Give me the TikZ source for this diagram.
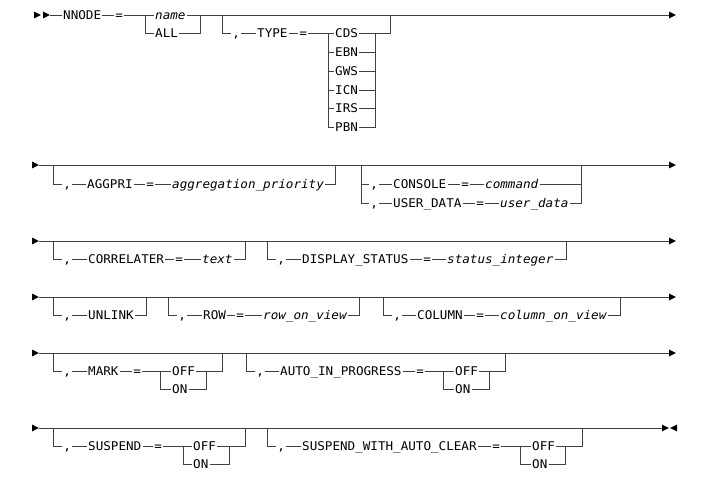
\documentclass[tikz,border=0pt]{standalone}
\usepackage{fontspec}
\setmonofont{DejaVu Sans Mono}[FakeStretch=1.05]
\tikzstyle{rail} = [draw=black!75, line width=0.7pt]
\tikzstyle{kw} = [inner sep=1pt, anchor=west, text height=8.8pt, text depth=0pt, text=black, font=\ttfamily\fontsize{12}{14}\selectfont]
\tikzstyle{var} = [kw, font=\ttfamily\itshape\fontsize{12}{14}\selectfont]
\newcommand{\railtip}[2]{\fill[black] (#1,#2) -- ++(-7,-3.4) -- ++(0,6.8) -- cycle;}
\newcommand{\railtipl}[2]{\fill[black] (#1,#2) -- ++(7,-3.4) -- ++(0,6.8) -- cycle;}
\begin{document}
\begin{tikzpicture}[x=1pt, y=-1pt]
\useasboundingbox (0,0) rectangle (722,489);

% Row 1: NNODE, TYPE
\coordinate (s1) at (50,15);
\coordinate (e1) at (669,15);
\railtip{41}{15} \railtip{50}{15} \railtip{676}{15}
\node[kw] (nnode) at (62,15) {NNODE};
\node[kw] (eq1) at (114.2,15) {=};
\node[var] (name) at (154,15) {name};
\node[kw] (all) at (154,33) {ALL};
\coordinate (nsplit) at (145,15);
\coordinate (njoin) at (200,15);
\draw[rail] (s1) -- (nnode.west);
\draw[rail] (nnode.east) -- (eq1.west);
\draw[rail] (eq1.east) -- (name.west);
\draw[rail] (nsplit) |- (all.west);
\draw[rail] (name.east) -- (njoin);
\draw[rail] (all.east) -| (njoin);
\draw[rail] (njoin) -- (e1);

% TYPE choices
\coordinate (typein) at (222,15);
\coordinate (typeout) at (390,15);
\coordinate (tsplit) at (328,33);
\coordinate (tright) at (375,33);
\node[kw] (comma1) at (231.2,33) {,};
\node[kw] (type) at (256,33) {TYPE};
\node[kw] (eq2) at (298.2,33) {=};
\node[kw] (cds) at (334,33) {CDS};
\node[kw] (ebn) at (334,52) {EBN};
\node[kw] (gws) at (334,71) {GWS};
\node[kw] (icn) at (334,90) {ICN};
\node[kw] (irs) at (334,108) {IRS};
\node[kw] (pbn) at (334,127) {PBN};
\draw[rail] (typein) |- (comma1.west);
\draw[rail] (comma1.east) -- (type.west);
\draw[rail] (type.east) -- (eq2.west);
\draw[rail] (eq2.east) -- (cds.west);
\draw[rail] (tsplit) |- (pbn.west);
\draw[rail] (tsplit |- ebn.west) -- (ebn.west);
\draw[rail] (tsplit |- gws.west) -- (gws.west);
\draw[rail] (tsplit |- icn.west) -- (icn.west);
\draw[rail] (tsplit |- irs.west) -- (irs.west);
\draw[rail] (cds.east) -| (typeout);
\draw[rail] (pbn.east) -| (tright);
\draw[rail] (ebn.east) -- (tright |- ebn.east);
\draw[rail] (gws.east) -- (tright |- gws.east);
\draw[rail] (icn.east) -- (tright |- icn.east);
\draw[rail] (irs.east) -- (tright |- irs.east);

% Row 2: AGGPRI, CONSOLE / USER_DATA
\coordinate (s2) at (39,165);
\coordinate (e2) at (669,165);
\railtip{39}{165} \railtip{676}{165}
\draw[rail] (s2) -- (e2);
\coordinate (aggin) at (53,165);
\coordinate (aggout) at (335,165);
\node[kw] (comma2) at (62.2,184) {,};
\node[kw] (aggpri) at (86,184) {AGGPRI};
\node[kw] (eq3) at (145.2,184) {=};
\node[var] (aggval) at (171,184) {aggregation\_priority};
\draw[rail] (aggin) |- (comma2.west);
\draw[rail] (comma2.east) -- (aggpri.west);
\draw[rail] (aggpri.east) -- (eq3.west);
\draw[rail] (eq3.east) -- (aggval.west);
\draw[rail] (aggval.east) -| (aggout);

\coordinate (conin) at (361,165);
\coordinate (conout) at (581,165);
\node[kw] (comma3) at (369.2,184) {,};
\node[kw] (console) at (392,184) {CONSOLE};
\node[kw] (eq4) at (460.2,184) {=};
\node[var] (command) at (484,184) {command};
\node[kw] (comma4) at (369.2,203) {,};
\node[kw] (userdata) at (392,203) {USER\_DATA};
\node[kw] (eq5) at (475.2,203) {=};
\node[var] (userval) at (499,203) {user\_data};
\draw[rail] (conin) |- (comma4.west);
\draw[rail] (conin |- comma3.west) -- (comma3.west);
\draw[rail] (comma3.east) -- (console.west);
\draw[rail] (console.east) -- (eq4.west);
\draw[rail] (eq4.east) -- (command.west);
\draw[rail] (command.east) -- (conout |- command.east);
\draw[rail] (comma4.east) -- (userdata.west);
\draw[rail] (userdata.east) -- (eq5.west);
\draw[rail] (eq5.east) -- (userval.west);
\draw[rail] (userval.east) -| (conout);

% Row 3: CORRELATER, DISPLAY_STATUS
\coordinate (s3) at (39,241);
\coordinate (e3) at (669,241);
\railtip{39}{241} \railtip{676}{241}
\draw[rail] (s3) -- (e3);
\coordinate (corin) at (53,241);
\coordinate (corout) at (245,241);
\node[kw] (comma5) at (62.2,259) {,};
\node[kw] (correl) at (87,259) {CORRELATER};
\node[kw] (eq6) at (174.2,259) {=};
\node[var] (textval) at (201,259) {text};
\draw[rail] (corin) |- (comma5.west);
\draw[rail] (comma5.east) -- (correl.west);
\draw[rail] (correl.east) -- (eq6.west);
\draw[rail] (eq6.east) -- (textval.west);
\draw[rail] (textval.east) -| (corout);

\coordinate (dspin) at (267,241);
\coordinate (dspout) at (566,241);
\node[kw] (comma6) at (276.2,259) {,};
\node[kw] (dspstat) at (301,259) {DISPLAY\_STATUS};
\node[kw] (eq7) at (422.2,259) {=};
\node[var] (statval) at (446,259) {status\_integer};
\draw[rail] (dspin) |- (comma6.west);
\draw[rail] (comma6.east) -- (dspstat.west);
\draw[rail] (dspstat.east) -- (eq7.west);
\draw[rail] (eq7.east) -- (statval.west);
\draw[rail] (statval.east) -| (dspout);

% Row 4: UNLINK, ROW, COLUMN
\coordinate (s4) at (39,297);
\coordinate (e4) at (669,297);
\railtip{39}{297} \railtip{676}{297}
\draw[rail] (s4) -- (e4);
\coordinate (unlin) at (53,297);
\coordinate (unlout) at (146,297);
\node[kw] (comma7) at (62.2,315) {,};
\node[kw] (unlink) at (87,315) {UNLINK};
\draw[rail] (unlin) |- (comma7.west);
\draw[rail] (comma7.east) -- (unlink.west);
\draw[rail] (unlink.east) -| (unlout);

\coordinate (rowin) at (168,297);
\coordinate (rowout) at (359,297);
\node[kw] (comma8) at (177.2,315) {,};
\node[kw] (rowkw) at (202,315) {ROW};
\node[kw] (eq8) at (235.2,315) {=};
\node[var] (rowval) at (262,315) {row\_on\_view};
\draw[rail] (rowin) |- (comma8.west);
\draw[rail] (comma8.east) -- (rowkw.west);
\draw[rail] (rowkw.east) -- (eq8.west);
\draw[rail] (eq8.east) -- (rowval.west);
\draw[rail] (rowval.east) -| (rowout);

\coordinate (colin) at (383,297);
\coordinate (colout) at (620,297);
\node[kw] (comma9) at (392.2,315) {,};
\node[kw] (colkw) at (416,315) {COLUMN};
\node[kw] (eq9) at (475.2,315) {=};
\node[var] (colval) at (499,315) {column\_on\_view};
\draw[rail] (colin) |- (comma9.west);
\draw[rail] (comma9.east) -- (colkw.west);
\draw[rail] (colkw.east) -- (eq9.west);
\draw[rail] (eq9.east) -- (colval.west);
\draw[rail] (colval.east) -| (colout);

% Row 5: MARK, AUTO_IN_PROGRESS
\coordinate (s5) at (39,353);
\coordinate (e5) at (669,353);
\railtip{39}{353} \railtip{676}{353}
\draw[rail] (s5) -- (e5);
\coordinate (markin) at (53,353);
\coordinate (markout) at (222,353);
\coordinate (msplit) at (160,371);
\coordinate (mright) at (206,371);
\node[kw] (comma10) at (62.2,371) {,};
\node[kw] (markkw) at (87,371) {MARK};
\node[kw] (eq10) at (132.2,371) {=};
\node[kw] (moff) at (171,371) {OFF};
\node[kw] (mon) at (171,389) {ON};
\draw[rail] (markin) |- (comma10.west);
\draw[rail] (comma10.east) -- (markkw.west);
\draw[rail] (markkw.east) -- (eq10.west);
\draw[rail] (eq10.east) -- (moff.west);
\draw[rail] (msplit) |- (mon.west);
\draw[rail] (mon.east) -| (mright);
\draw[rail] (moff.east) -| (markout);

\coordinate (autoin) at (246,353);
\coordinate (autoout) at (505,353);
\coordinate (asplit) at (443,371);
\coordinate (aright) at (489,371);
\node[kw] (comma11) at (255.2,371) {,};
\node[kw] (autokw) at (279,371) {AUTO\_IN\_PROGRESS};
\node[kw] (eq11) at (415.2,371) {=};
\node[kw] (aoff) at (454,371) {OFF};
\node[kw] (aon) at (454,389) {ON};
\draw[rail] (autoin) |- (comma11.west);
\draw[rail] (comma11.east) -- (autokw.west);
\draw[rail] (autokw.east) -- (eq11.west);
\draw[rail] (eq11.east) -- (aoff.west);
\draw[rail] (asplit) |- (aon.west);
\draw[rail] (aon.east) -| (aright);
\draw[rail] (aoff.east) -| (autoout);

% Row 6: SUSPEND, SUSPEND_WITH_AUTO_CLEAR
\coordinate (s6) at (39,428);
\coordinate (e6) at (662,428);
\railtip{39}{428} \railtip{669}{428} \railtipl{670}{428}
\draw[rail] (s6) -- (e6);
\coordinate (suspin) at (53,428);
\coordinate (suspout) at (245,428);
\coordinate (ssplit) at (183,446);
\coordinate (sright) at (229,446);
\node[kw] (comma12) at (62.2,446) {,};
\node[kw] (suspkw) at (87,446) {SUSPEND};
\node[kw] (eq12) at (153.2,446) {=};
\node[kw] (soff) at (192,446) {OFF};
\node[kw] (son) at (192,464) {ON};
\draw[rail] (suspin) |- (comma12.west);
\draw[rail] (comma12.east) -- (suspkw.west);
\draw[rail] (suspkw.east) -- (eq12.west);
\draw[rail] (eq12.east) -- (soff.west);
\draw[rail] (ssplit) |- (son.west);
\draw[rail] (son.east) -| (sright);
\draw[rail] (soff.east) -| (suspout);

\coordinate (swacin) at (267,428);
\coordinate (swacout) at (582,428);
\coordinate (wsplit) at (520,446);
\coordinate (wright) at (565,446);
\node[kw] (comma13) at (276.2,446) {,};
\node[kw] (swackw) at (301,446) {SUSPEND\_WITH\_AUTO\_CLEAR};
\node[kw] (eq13) at (491.2,446) {=};
\node[kw] (woff) at (531,446) {OFF};
\node[kw] (won) at (531,464) {ON};
\draw[rail] (swacin) |- (comma13.west);
\draw[rail] (comma13.east) -- (swackw.west);
\draw[rail] (swackw.east) -- (eq13.west);
\draw[rail] (eq13.east) -- (woff.west);
\draw[rail] (wsplit) |- (won.west);
\draw[rail] (won.east) -| (wright);
\draw[rail] (woff.east) -| (swacout);

\end{tikzpicture}
\end{document}
